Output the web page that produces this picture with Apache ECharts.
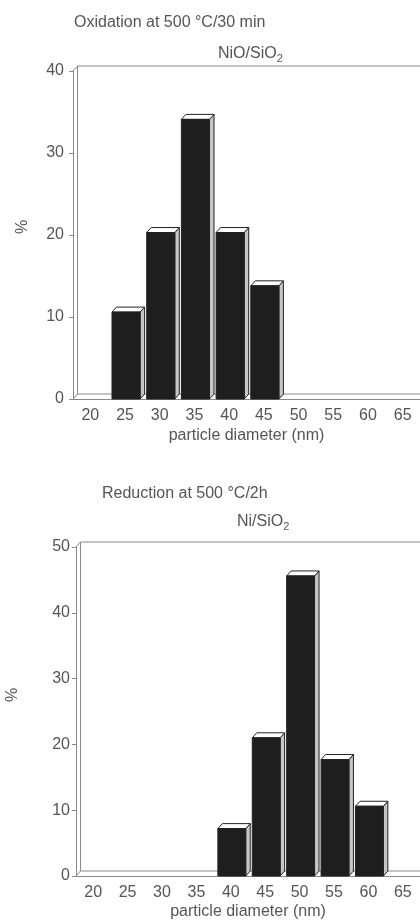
<!DOCTYPE html>
<html>
<head>
<meta charset="utf-8">
<script src="https://cdn.jsdelivr.net/npm/echarts@6/dist/echarts.min.js"></script>
<style>
html, body { margin: 0; padding: 0; background: #fff; }
#chart { width: 420px; height: 921px; }
</style>
</head>
<body>
<div id="chart"></div>
<script>
// particle diameter bins (nm)
const categories = ['20', '25', '30', '35', '40', '45', '50', '55', '60', '65'];
// % of particles
const oxidationValues = [0, 10.6, 20.3, 34.1, 20.3, 13.8, 0, 0, 0, 0];
const reductionValues = [0, 0, 0, 0, 7.2, 21.0, 45.6, 17.7, 10.6, 0];
const oxidationMax = 40;
const reductionMax = 50;

const DX = 4.5, DY = 5; // fake 3d depth
const textColor = '#555';
const lineColor = '#888';
const font = '"Liberation Sans", Arial, Helvetica, sans-serif';

const chart = echarts.init(document.getElementById('chart'));

// one bar = front face + top + right side
function renderBar(params, api) {
  const v = api.value(1);
  if (!v) return;
  const c = api.coord([api.value(0), v]);
  const base = api.coord([api.value(0), 0]);
  const band = api.size([1, 0])[0];
  const w = band * 0.81;
  const x0 = c[0] - w / 2 + 1, x1 = x0 + w;
  const yv = c[1], y0 = base[1];
  const st = { stroke: '#222', lineWidth: 1 };
  return {
    type: 'group',
    children: [
      { type: 'polygon', shape: { points: [[x1, yv], [x1 + DX, yv - DY], [x1 + DX, y0 - DY], [x1, y0]] }, style: Object.assign({ fill: '#c6c6c6' }, st) },
      { type: 'polygon', shape: { points: [[x0, yv], [x0 + DX, yv - DY], [x1 + DX, yv - DY], [x1, yv]] }, style: Object.assign({ fill: '#fff' }, st) },
      { type: 'rect', shape: { x: x0, y: yv, width: w, height: y0 - yv }, style: Object.assign({ fill: '#1e1e1e' }, st) }
    ]
  };
}

// back wall / floor lines of the box
function renderFrame(params, api) {
  const band = api.size([1, 0])[0];
  const top = api.coord([0, api.value(1)]);
  const bot = api.coord([0, 0]);
  const xl = top[0] - band / 2;
  const xr = api.coord([categories.length - 1, 0])[0] + band / 2;
  const yt = top[1], yb = bot[1];
  const st = { stroke: lineColor, lineWidth: 1 };
  const seg = (a, b, c, d) => ({ type: 'line', shape: { x1: a, y1: b, x2: c, y2: d }, style: st });
  return {
    type: 'group',
    children: [
      seg(xl, yt, xl + DX, yt - DY),
      seg(xl, yb, xl + DX, yb - DY),
      seg(xl + DX, yt - DY, xl + DX, yb - DY),
      seg(xl + DX, yt - DY, xr, yt - DY),
      seg(xl + DX, yb - DY, xr, yb - DY)
    ]
  };
}

function xAxisFor(gridIndex, gap) {
  return {
    type: 'category', gridIndex, data: categories, boundaryGap: true,
    axisLine: { lineStyle: { color: lineColor } },
    axisTick: { inside: true, length: 3, lineStyle: { color: lineColor } },
    axisLabel: { fontSize: 16, color: textColor, fontFamily: font, margin: 9 },
    name: 'particle diameter (nm)', nameLocation: 'middle', nameGap: gap,
    nameTextStyle: { fontSize: 16, color: textColor, fontFamily: font }
  };
}

function yAxisFor(gridIndex, max, margin) {
  return {
    type: 'value', gridIndex, min: 0, max, interval: 10,
    splitLine: { show: false },
    axisLine: { show: true, lineStyle: { color: lineColor } },
    axisTick: { show: true, length: 4, lineStyle: { color: lineColor } },
    axisLabel: { fontSize: 16, color: textColor, fontFamily: font, margin }
  };
}

const titleStyle = { fontSize: 16, fontWeight: 'normal', color: textColor, fontFamily: font };
const formulaStyle = {
  fontWeight: 'normal',
  rich: {
    a: { fontSize: 16, fontWeight: 'normal', color: textColor, fontFamily: font, lineHeight: 20 },
    b: { fontSize: 11, fontWeight: 'normal', color: textColor, fontFamily: font, lineHeight: 20, padding: [9, 0, 0, 0] }
  }
};

const option = {
  animation: false,
  title: [
    { text: 'Oxidation at 500 °C/30 min', left: 74, top: 15, padding: 0, textStyle: titleStyle },
    { text: '{a|NiO/SiO}{b|2}', left: 218, top: 44, padding: 0, textStyle: formulaStyle },
    { text: 'Reduction at 500 °C/2h', left: 102, top: 486, padding: 0, textStyle: titleStyle },
    { text: '{a|Ni/SiO}{b|2}', left: 237, top: 512, padding: 0, textStyle: formulaStyle }
  ],
  grid: [
    { left: 73, top: 71, width: 354, height: 328 },
    { left: 76, top: 547, width: 351, height: 331 }
  ],
  xAxis: [xAxisFor(0, 29), xAxisFor(1, 28)],
  yAxis: [yAxisFor(0, oxidationMax, 9), yAxisFor(1, reductionMax, 6)],
  graphic: [
    { type: 'text', x: 23, y: 227, rotation: Math.PI / 2, style: { text: '%', fontSize: 16, fill: textColor, fontFamily: font, align: 'center', verticalAlign: 'middle' } },
    { type: 'text', x: 13, y: 695, rotation: Math.PI / 2, style: { text: '%', fontSize: 16, fill: textColor, fontFamily: font, align: 'center', verticalAlign: 'middle' } }
  ],
  series: [
    { type: 'custom', xAxisIndex: 0, yAxisIndex: 0, silent: true, renderItem: renderFrame, data: [[0, oxidationMax]], z: 1 },
    { type: 'custom', xAxisIndex: 0, yAxisIndex: 0, silent: true, renderItem: renderBar, data: oxidationValues.map((v, i) => [i, v]), z: 2 },
    { type: 'custom', xAxisIndex: 1, yAxisIndex: 1, silent: true, renderItem: renderFrame, data: [[0, reductionMax]], z: 1 },
    { type: 'custom', xAxisIndex: 1, yAxisIndex: 1, silent: true, renderItem: renderBar, data: reductionValues.map((v, i) => [i, v]), z: 2 }
  ]
};

chart.setOption(option);
</script>
</body>
</html>
